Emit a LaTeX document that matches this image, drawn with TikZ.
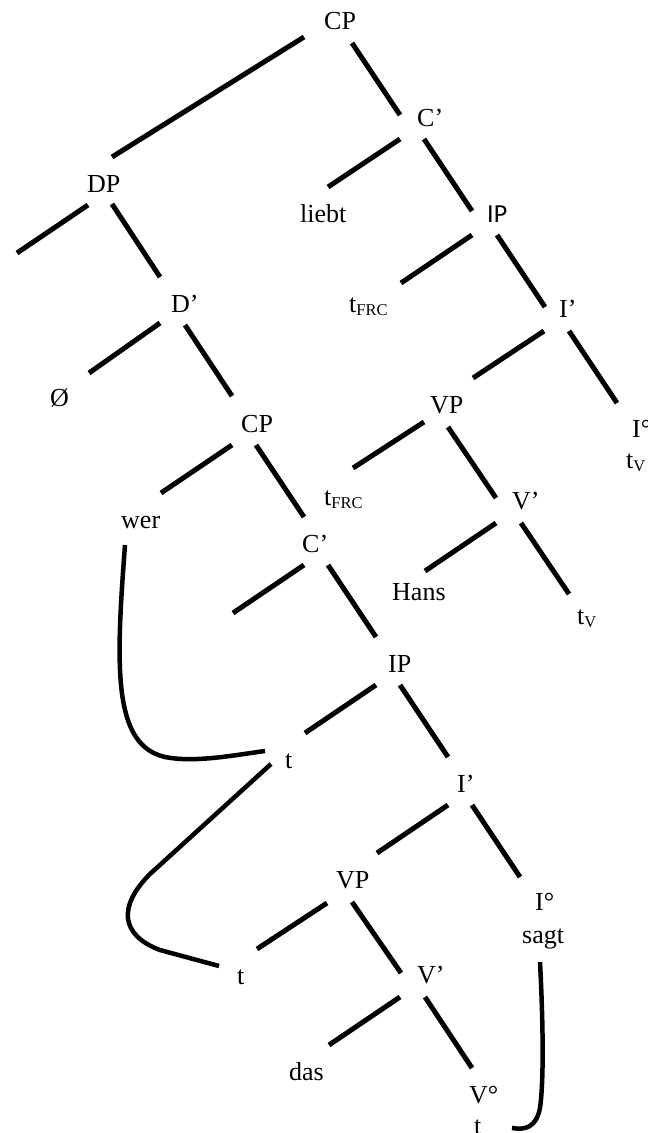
\documentclass[tikz,border=0pt]{standalone}
\usepackage{fontspec}
\usepackage{tikz}
\setmainfont{Liberation Serif}
\newfontfamily\ipfont{Carlito}

% trace with a lowered index
\newcommand{\tsub}[1]{t\raisebox{-3pt}{\fontsize{16.5}{18}\selectfont #1}}

\begin{document}
\begin{tikzpicture}[
    x=1pt, y=-1pt,
    every node/.style={inner sep=0pt, anchor=base west, font=\fontsize{26}{31}\selectfont},
    branch/.style={line width=5pt},
    move/.style={line width=4.5pt}
]
\useasboundingbox (0,0) rectangle (648,1133);

% upper clause
\node (CPa) at (324,29) {CP};
\node (DPa) at (87,192) {DP};
\node (Ca) at (417,126) {C’};
\node (liebt) at (300,222) {liebt};
\node[font=\ipfont\fontsize{26}{31}\selectfont] (IPa) at (487,222) {IP};
\node (tFRCa) at (349,312) {\tsub{FRC}};
\node (Ia) at (559,317) {I’};
\node (Da) at (171,312) {D’};
\node (empty) at (50,406) {Ø};
\node (VPa) at (430,413) {VP};
\node (I0a) at (632,437) {I°};
\node (tVa) at (626,468) {\tsub{V}};
\node (tFRCb) at (324,505) {\tsub{FRC}};
\node (Va) at (512,509) {V’};
\node (Hans) at (392,600) {Hans};
\node (tVb) at (577,624) {\tsub{V}};

% embedded clause
\node (CPb) at (241,432) {CP};
\node (wer) at (121,528) {wer};
\node (Cb) at (302,552) {C’};
\node (IPb) at (388,672) {IP};
\node (ta) at (285,768) {t};
\node (Ib) at (457,792) {I’};
\node (VPb) at (336,888) {VP};
\node (I0b) at (535,910) {I°};
\node (sagt) at (522,943) {sagt};
\node (tb) at (237,984) {t};
\node (Vb) at (417,983) {V’};
\node (das) at (289,1080) {das};
\node (V0) at (469,1103) {V°};
\node (tc) at (474,1134) {t};

\coordinate (DPfree) at (17,253);
\coordinate (Cbfree) at (233,613);

% branches
\draw[branch] ([shift={(-20,8)}]CPa.base west) -- ([shift={(25,-35)}]DPa.base west);
\draw[branch] ([shift={(28,14)}]CPa.base west) -- ([shift={(-17,-11)}]Ca.base west);
\draw[branch] ([shift={(1,13)}]DPa.base west) -- (DPfree);
\draw[branch] ([shift={(25,12)}]DPa.base west) -- ([shift={(-11,-35)}]Da.base west);
\draw[branch] ([shift={(-17,13)}]Ca.base west) -- ([shift={(28,-35)}]liebt.base west);
\draw[branch] ([shift={(7,13)}]Ca.base west) -- ([shift={(-15,-11)}]IPa.base west);
\draw[branch] ([shift={(-15,13)}]IPa.base west) -- ([shift={(52,-29)}]tFRCa.base west);
\draw[branch] ([shift={(10,13)}]IPa.base west) -- ([shift={(-14,-10)}]Ia.base west);
\draw[branch] ([shift={(-11,11)}]Da.base west) -- ([shift={(39,-33)}]empty.base west);
\draw[branch] ([shift={(14,13)}]Da.base west) -- ([shift={(-9,-36)}]CPb.base west);
\draw[branch] ([shift={(-15,14)}]Ia.base west) -- ([shift={(43,-35)}]VPa.base west);
\draw[branch] ([shift={(10,14)}]Ia.base west) -- ([shift={(-15,-34)}]I0a.base west);
\draw[branch] ([shift={(-9,13)}]CPb.base west) -- ([shift={(40,-35)}]wer.base west);
\draw[branch] ([shift={(15,13)}]CPb.base west) -- ([shift={(2,-35)}]Cb.base west);
\draw[branch] ([shift={(-6,9)}]VPa.base west) -- ([shift={(29,-37)}]tFRCb.base west);
\draw[branch] ([shift={(18,14)}]VPa.base west) -- ([shift={(-16,-11)}]Va.base west);
\draw[branch] ([shift={(2,13)}]Cb.base west) -- (Cbfree);
\draw[branch] ([shift={(26,13)}]Cb.base west) -- ([shift={(-12,-35)}]IPb.base west);
\draw[branch] ([shift={(-16,14)}]Va.base west) -- ([shift={(33,-29)}]Hans.base west);
\draw[branch] ([shift={(9,14)}]Va.base west) -- ([shift={(-8,-30)}]tVb.base west);
\draw[branch] ([shift={(-12,13)}]IPb.base west) -- ([shift={(20,-35)}]ta.base west);
\draw[branch] ([shift={(12,13)}]IPb.base west) -- ([shift={(-9,-35)}]Ib.base west);
\draw[branch] ([shift={(-9,13)}]Ib.base west) -- ([shift={(41,-35)}]VPb.base west);
\draw[branch] ([shift={(15,13)}]Ib.base west) -- ([shift={(-15,-33)}]I0b.base west);
\draw[branch] ([shift={(-9,15)}]VPb.base west) -- ([shift={(20,-35)}]tb.base west);
\draw[branch] ([shift={(16,14)}]VPb.base west) -- ([shift={(-16,-10)}]Vb.base west);
\draw[branch] ([shift={(-17,14)}]Vb.base west) -- ([shift={(40,-35)}]das.base west);
\draw[branch] ([shift={(8,14)}]Vb.base west) -- ([shift={(3,-35)}]V0.base west);

% movement lines
\draw[move] ([shift={(4,17)}]wer.base west) .. controls (116,665) and (112,745) .. (165,757)
    .. controls (195,763) and (235,755) .. ([shift={(-20,-17)}]ta.base west);
\draw[move] ([shift={(-14,-4)}]ta.base west) -- (150,874) .. controls (118,906) and (120,935) .. (160,950)
    -- ([shift={(-18,-18)}]tb.base west);
\draw[move] ([shift={(18,19)}]sagt.base west) .. controls (543,1020) and (544,1080) .. (540,1108)
    .. controls (536,1128) and (525,1130) .. ([shift={(38,-6)}]tc.base west);
\end{tikzpicture}
\end{document}
